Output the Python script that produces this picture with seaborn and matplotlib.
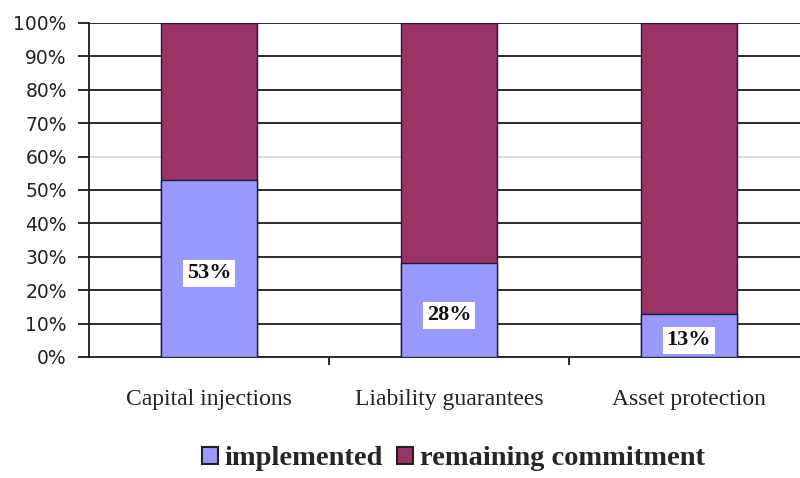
import matplotlib
matplotlib.use("Agg")
import matplotlib.pyplot as plt
from matplotlib.patches import Patch
import seaborn as sns
import pandas as pd

categories = ["Capital injections", "Liability guarantees", "Asset protection"]
implemented = [53, 28, 13]
remaining = [47, 72, 87]
y_ticks = [0, 10, 20, 30, 40, 50, 60, 70, 80, 90, 100]
legend_labels = ["implemented", "remaining commitment"]

c_impl = "#9999FF"
c_rem = "#993366"

sns.set_style("white")
fig = plt.figure(figsize=(8, 4.78), dpi=100)
ax = fig.add_axes([89 / 800, 121 / 478, 720 / 800, 334 / 478])

df = pd.DataFrame({"category": categories,
                   "implemented": implemented,
                   "remaining": remaining})
df["total"] = df["implemented"] + df["remaining"]

# gridlines
for t in y_ticks[1:]:
    ax.axhline(t, color="#d8d8d8" if t == 60 else "#1a1a1a", lw=1.3, zorder=0)

sns.barplot(data=df, x="category", y="total", color=c_rem, width=0.4,
            edgecolor="#1a1a3a", linewidth=1.0, saturation=1, ax=ax, zorder=2)
sns.barplot(data=df, x="category", y="implemented", color=c_impl, width=0.4,
            edgecolor="#1a1a3a", linewidth=1.0, saturation=1, ax=ax, zorder=3)

for i, v in enumerate(implemented):
    ax.annotate(f"{v}%", xy=(i, v / 2), xytext=(0, -3.5), textcoords="offset points",
                ha="center", va="center", fontsize=16,
                fontweight="bold", family="Liberation Serif", zorder=5,
                color="#111111",
                bbox=dict(facecolor="white", edgecolor="none", pad=2.5))

ax.set_xlim(-0.5, 2.5)
ax.set_ylim(0, 100)
ax.set_yticks(y_ticks)
ax.set_yticklabels([f"{t}%" for t in y_ticks], fontsize=13.5,
                   family="DejaVu Sans", color="#222222")
ax.set_xlabel("")
ax.set_ylabel("")
ax.set_xticks(range(len(categories)))
ax.set_xticklabels(categories, fontsize=17, family="Liberation Serif",
                   color="#222222")
ax.set_xticks([0.5, 1.5], minor=True)
ax.tick_params(axis="x", which="major", length=0, pad=23)
ax.tick_params(axis="x", which="minor", length=6, width=1.3, color="#1a1a1a",
               direction="out", bottom=True)
ax.tick_params(axis="y", length=8, width=1.3, color="#1a1a1a", direction="out",
               pad=8, left=True)

for s in ["top", "right"]:
    ax.spines[s].set_visible(False)
for s in ["left", "bottom"]:
    ax.spines[s].set_color("#1a1a1a")
    ax.spines[s].set_linewidth(1.3)

handles = [Patch(facecolor=c_impl, edgecolor="#222222", lw=1.5),
           Patch(facecolor=c_rem, edgecolor="#222222", lw=1.5)]
fig.legend(handles, legend_labels, loc="center", bbox_to_anchor=(0.567, 0.040),
           ncol=2, frameon=False,
           prop={"family": "Liberation Serif", "size": 20.5, "weight": "bold"},
           handlelength=0.55, handleheight=0.55, handletextpad=0.25,
           columnspacing=0.5)

fig.savefig("out.png", dpi=100)
